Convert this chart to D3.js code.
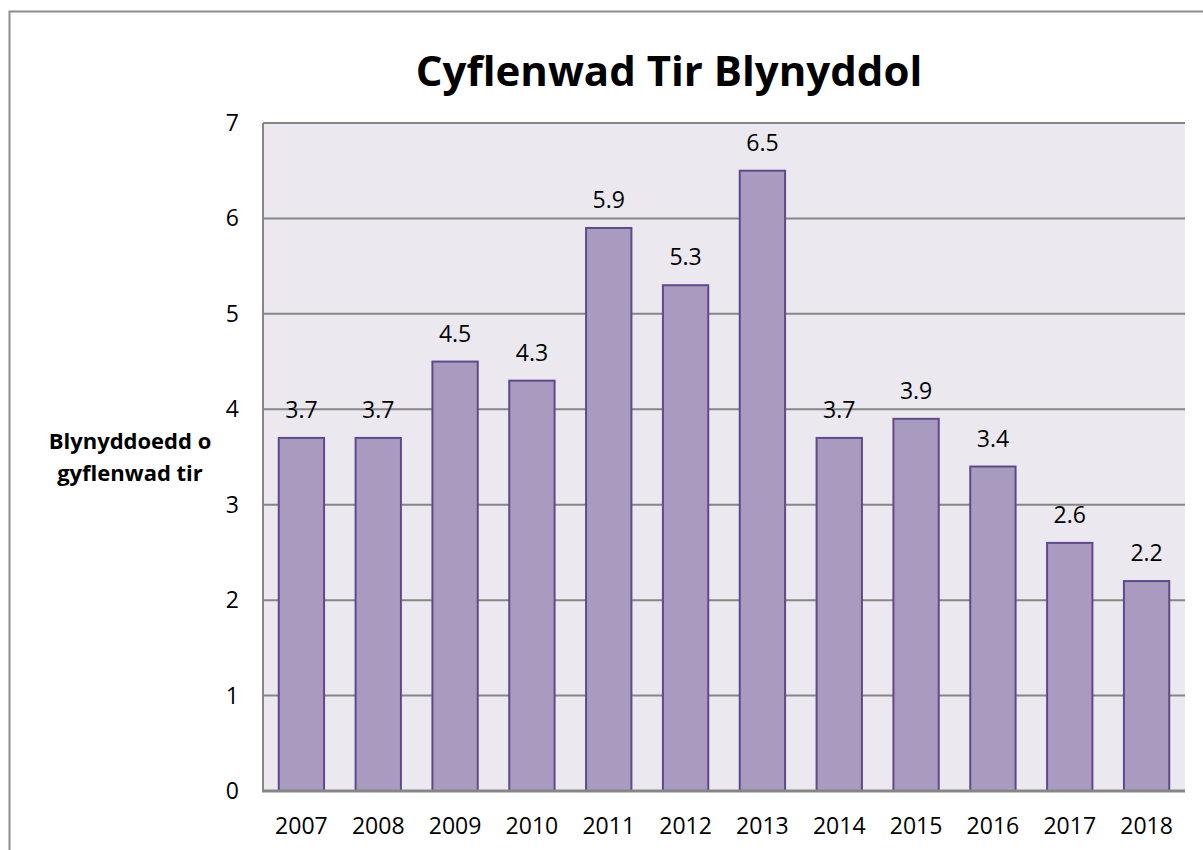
<!DOCTYPE html>
<meta charset="utf-8">
<title>Cyflenwad Tir Blynyddol</title>
<style>
body {
  margin: 0;
  background: #fff;
  font-family: "Open Sans", sans-serif;
}
.grid line {
  stroke: #868686;
  stroke-width: 2px;
}
.bar {
  fill: #a99bc0;
  stroke: #5e4a8a;
  stroke-width: 2px;
}
</style>
<body>
<div id="vis"></div>
<script src="https://cdn.jsdelivr.net/npm/d3@7"></script>
<script>

var years = ["2007", "2008", "2009", "2010", "2011", "2012", "2013", "2014", "2015", "2016", "2017", "2018"];
var supply = [3.7, 3.7, 4.5, 4.3, 5.9, 5.3, 6.5, 3.7, 3.9, 3.4, 2.6, 2.2];
var yTicks = [0, 1, 2, 3, 4, 5, 6, 7];

var width = 1203,
    height = 850,
    margin = {top: 123, right: 18, bottom: 59, left: 263};

var svg = d3.select("#vis").append("svg")
    .attr("width", width)
    .attr("height", height);

// outer chart border
svg.append("rect")
    .attr("x", 9.5)
    .attr("y", 11.5)
    .attr("width", 1200)
    .attr("height", 900)
    .attr("fill", "#fff")
    .attr("stroke", "#8c8c8c")
    .attr("stroke-width", 2);

var x = d3.scaleBand()
    .domain(years)
    .range([margin.left, width - margin.right])
    .paddingInner(0.41)
    .paddingOuter(0.205);

var y = d3.scaleLinear()
    .domain([0, 7])
    .range([height - margin.bottom, margin.top]);

// plot area
svg.append("rect")
    .attr("x", margin.left)
    .attr("y", margin.top)
    .attr("width", width - margin.right - margin.left)
    .attr("height", height - margin.bottom - margin.top)
    .attr("fill", "#ebe9ef");

// gridlines
svg.append("g")
    .attr("class", "grid")
  .selectAll("line")
    .data(yTicks.slice(1))
  .enter().append("line")
    .attr("x1", margin.left)
    .attr("x2", width - margin.right)
    .attr("y1", function(d) { return y(d); })
    .attr("y2", function(d) { return y(d); });

// bars
svg.selectAll(".bar")
    .data(supply)
  .enter().append("rect")
    .attr("class", "bar")
    .attr("x", function(d, i) { return x(years[i]); })
    .attr("width", x.bandwidth())
    .attr("y", function(d) { return y(d); })
    .attr("height", function(d) { return y(0) - y(d); });

// value labels
svg.selectAll(".label")
    .data(supply)
  .enter().append("text")
    .attr("class", "label")
    .attr("x", function(d, i) { return x(years[i]) + x.bandwidth() / 2; })
    .attr("y", function(d) { return y(d) - 20; })
    .attr("text-anchor", "middle")
    .style("font-size", "23px")
    .style("fill", "#000")
    .text(function(d) { return d.toFixed(1); });

// axes
svg.append("line")
    .attr("x1", margin.left).attr("x2", margin.left)
    .attr("y1", margin.top).attr("y2", y(0))
    .attr("stroke", "#868686").attr("stroke-width", 2);

svg.append("line")
    .attr("x1", margin.left - 1).attr("x2", width - margin.right)
    .attr("y1", y(0)).attr("y2", y(0))
    .attr("stroke", "#868686").attr("stroke-width", 3);

svg.selectAll(".ytick")
    .data(yTicks)
  .enter().append("text")
    .attr("class", "ytick")
    .attr("x", margin.left - 24)
    .attr("y", function(d) { return y(d) + 8; })
    .attr("text-anchor", "end")
    .style("font-size", "23px")
    .text(function(d) { return d; });

svg.selectAll(".xtick")
    .data(years)
  .enter().append("text")
    .attr("class", "xtick")
    .attr("x", function(d) { return x(d) + x.bandwidth() / 2; })
    .attr("y", 834)
    .attr("text-anchor", "middle")
    .style("font-size", "23px")
    .text(function(d) { return d; });

// y axis title
var yTitle = svg.append("text")
    .attr("text-anchor", "middle")
    .style("font-size", "22px")
    .style("font-weight", "bold");
yTitle.append("tspan").attr("x", 130).attr("y", 449).text("Blynyddoedd o");
yTitle.append("tspan").attr("x", 130).attr("y", 481).text("gyflenwad tir");

// chart title
svg.append("text")
    .attr("x", 669)
    .attr("y", 86)
    .attr("text-anchor", "middle")
    .style("font-size", "42px")
    .style("font-weight", "bold")
    .text("Cyflenwad Tir Blynyddol");

</script>
</body>
